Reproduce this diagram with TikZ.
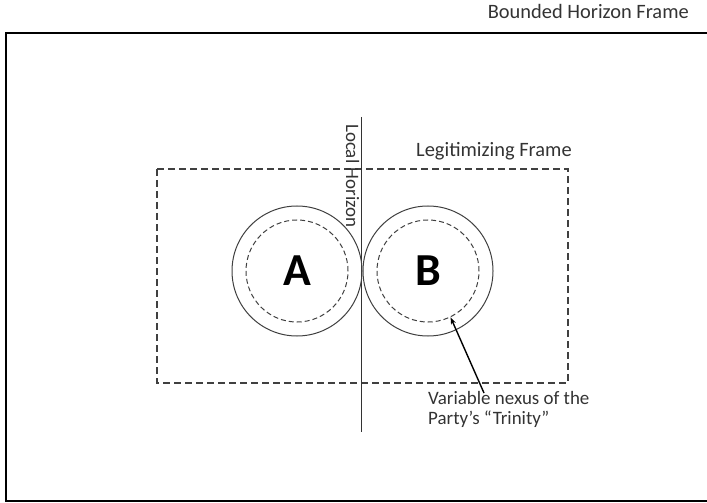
\documentclass[tikz,border=0pt]{standalone}
\usepackage{fontspec}
\setmainfont{Carlito}
\usetikzlibrary{arrows.meta, positioning}

\tikzset{
    hframe/.style={draw=black, line width=2.6bp},
    lframe/.style={draw=black!75, line width=1.2bp, dash pattern=on 7bp off 4bp},
    ring/.style={circle, draw=black!75, line width=1bp, minimum size=130bp, inner sep=0},
    inring/.style={circle, draw=black!75, line width=1bp, dash pattern=on 5bp off 3bp, minimum size=102bp, inner sep=0, font=\fontsize{46}{50}\selectfont\bfseries},
    lbl/.style={inner sep=0, text=black!80, font=\fontsize{19}{20}\selectfont},
    biglbl/.style={lbl, font=\fontsize{20.5}{22}\selectfont}
}

\begin{document}
\begin{tikzpicture}[x=1bp, y=-1bp]
        \useasboundingbox (0,0) rectangle (707,503);

        % frames
        \draw[hframe] (712,33) -- (6,33) -- (6,501) -- (712,501);
        \draw[lframe] (157,169) rectangle (568,383);

        \node[biglbl, anchor=base east] (bhf) at (689,19) {Bounded Horizon Frame};
        \node[biglbl, anchor=base west] (lgf) at (416,157) {Legitimizing Frame};

        % local horizon
        \coordinate (hTop) at (361,117);
        \coordinate (hBot) at (361,432);
        \draw[black!80, line width=1bp] (hTop) -- (hBot);
        \node[lbl, rotate=-90, anchor=base west] (lh) at (346,124) {Local Horizon};

        % the two parties
        \node[ring] (Aout) at (297,271) {};
        \node[inring] (A) at (297,271) {A};
        \node[ring] (Bout) at (428,271) {};
        \node[inring] (B) at (428,271) {B};

        \node[lbl, anchor=north west, align=left] (nexus) at (428,391) {Variable nexus of the\\Party’s “Trinity”};
        \coordinate (tail) at (484,393);
        \draw[-{Stealth[length=7bp, width=5bp]}, line width=1.4bp] (tail) -- (B.-64);
    \end{tikzpicture}
\end{document}
